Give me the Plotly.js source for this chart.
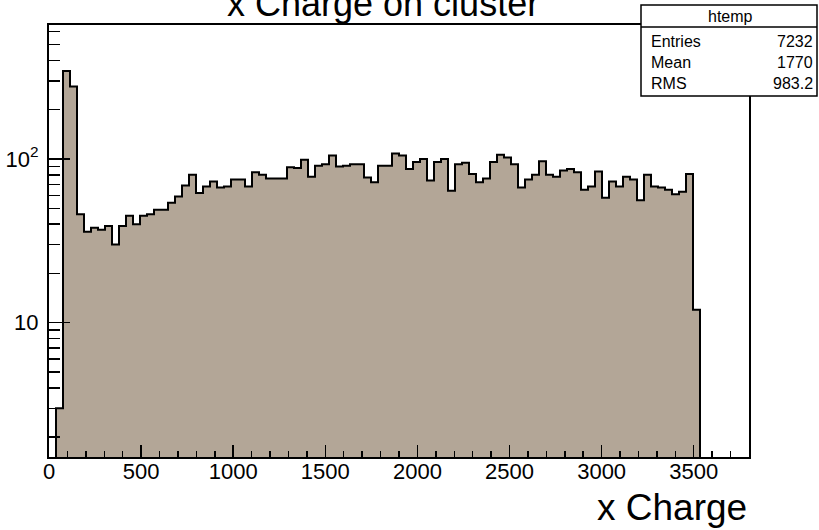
<!DOCTYPE html>
<html>
<head>
<meta charset="utf-8">
<script src="https://cdn.plot.ly/plotly-3.0.1.min.js"></script>
<style>html,body{margin:0;padding:0;background:#fff;overflow:hidden;}#chart{width:819px;height:530px;}</style>
</head>
<body>
<div id="chart"></div>
<script>
// ---- data ----
const binLow = 0;
const binWidth = 38;
const nBins = 100;
const counts = [1, 3, 345, 277, 46, 36, 38, 37, 39, 30,
  39, 45, 40, 45, 46, 49, 49, 54, 59, 69,
  80, 62, 68, 73, 67, 68, 75, 75, 68, 83,
  80, 76, 76, 76, 89, 88, 99, 78, 91, 93,
  105, 90, 91, 93, 93, 77, 72, 91, 91, 108,
  105, 87, 96, 100, 74, 96, 100, 64, 93, 95,
  81, 72, 76, 96, 106, 102, 93, 67, 75, 80,
  97, 80, 78, 85, 87, 83, 65, 68, 84, 58,
  73, 68, 78, 75, 56, 80, 68, 67, 65, 61,
  63, 81, 12];
const xTickVals = [0, 500, 1000, 1500, 2000, 2500, 3000, 3500];
const yTickVals = [10, 100];
const yTickText = ["10", "10<sup>2</sup>"];
const yMinorVals = [2,3,4,5,6,7,8,9,20,30,40,50,60,70,80,90,200,300,400,500,600,700,800,900];
const titleText = "x Charge on cluster";
const xTitleText = "x Charge";
const statsName = "htemp";
const statsLabels = ["Entries", "Mean", "RMS"];
const statsValues = ["7232", "1770", "983.2"];

// ---- build step outline from bins ----
const xs = [], ys = [];
for (let i = 0; i < counts.length; i++) {
  xs.push(binLow + i * binWidth);
  ys.push(counts[i]);
}
xs.push(binLow + counts.length * binWidth);
ys.push(1e-3);

const FONT = "Liberation Sans, Arial, sans-serif";
const fillCol = "rgb(179,166,151)";

const trace = {
  type: "scatter", mode: "lines",
  x: xs, y: ys,
  line: {shape: "hv", color: "#000", width: 2},
  fill: "tozeroy", fillcolor: fillCol,
  hoverinfo: "skip"
};

// paper spans x 49..818, plot frame spans 49..749
const L = 49, PW = 769, FW = 700, T = 25, H = 432;
const px = v => (v - L) / PW;
const py = v => (T + H - v) / H;

const annotations = [
  {text: titleText, xref: "paper", yref: "paper", x: px(383), y: py(3), xanchor: "center", yanchor: "middle",
   showarrow: false, font: {family: FONT, size: 36, color: "#000"}},
  {text: xTitleText, xref: "paper", yref: "paper", x: px(749), y: py(507), xanchor: "right", yanchor: "middle",
   showarrow: false, font: {family: FONT, size: 37, color: "#000"}},
  {text: statsName, xref: "paper", yref: "paper", x: px(730), y: py(16), xanchor: "center", yanchor: "middle",
   showarrow: false, font: {family: FONT, size: 16, color: "#000"}}
];
const rowsY = [41, 62, 83];
statsLabels.forEach((lab, i) => {
  annotations.push({text: lab, xref: "paper", yref: "paper", x: px(649), y: py(rowsY[i]), xanchor: "left", yanchor: "middle",
    showarrow: false, font: {family: FONT, size: 16, color: "#000"}});
  annotations.push({text: statsValues[i], xref: "paper", yref: "paper", x: px(815), y: py(rowsY[i]), xanchor: "right", yanchor: "middle",
    showarrow: false, font: {family: FONT, size: 16, color: "#000"}});
});

const shapes = [
  {type: "rect", xref: "paper", yref: "paper", x0: px(641), x1: px(817), y0: py(96), y1: py(5),
   line: {color: "#000", width: 1.5}, fillcolor: "#fff", layer: "above"},
  {type: "line", xref: "paper", yref: "paper", x0: px(641), x1: px(817), y0: py(27), y1: py(27),
   line: {color: "#000", width: 1.5}, layer: "above"}
];

const layout = {
  width: 819, height: 530,
  margin: {l: L, r: 819 - L - PW, t: T, b: 530 - T - H, pad: 0, autoexpand: false},
  paper_bgcolor: "#fff", plot_bgcolor: "#fff",
  showlegend: false,
  font: {family: FONT, color: "#000"},
  xaxis: {
    domain: [0, FW / PW],
    range: [binLow, binLow + nBins * binWidth],
    tickmode: "array", tickvals: xTickVals,
    ticks: "inside", ticklen: 12, tickwidth: 1.5, tickcolor: "#000",
    minor: {dtick: 100, tick0: 0, ticks: "inside", ticklen: 6, tickwidth: 1.5, tickcolor: "#000"},
    showline: true, linecolor: "#000", linewidth: 2, mirror: true,
    showgrid: false, zeroline: false,
    tickfont: {family: FONT, size: 22, color: "#000"},
    ticklabelstandoff: -6
  },
  yaxis: {
    type: "log",
    range: [0.1796, 2.8186],
    tickmode: "array", tickvals: yTickVals, ticktext: yTickText,
    ticks: "inside", ticklen: 21, tickwidth: 1.5, tickcolor: "#000",
    minor: {tickmode: "array", tickvals: yMinorVals, ticks: "inside", ticklen: 11, tickwidth: 1.5, tickcolor: "#000"},
    showline: true, linecolor: "#000", linewidth: 2, mirror: true,
    showgrid: false, zeroline: false,
    tickfont: {family: FONT, size: 22, color: "#000"},
    ticklabelstandoff: 4
  },
  annotations: annotations,
  shapes: shapes
};

Plotly.newPlot("chart", [trace], layout, {staticPlot: true, displayModeBar: false});
</script>
</body>
</html>
